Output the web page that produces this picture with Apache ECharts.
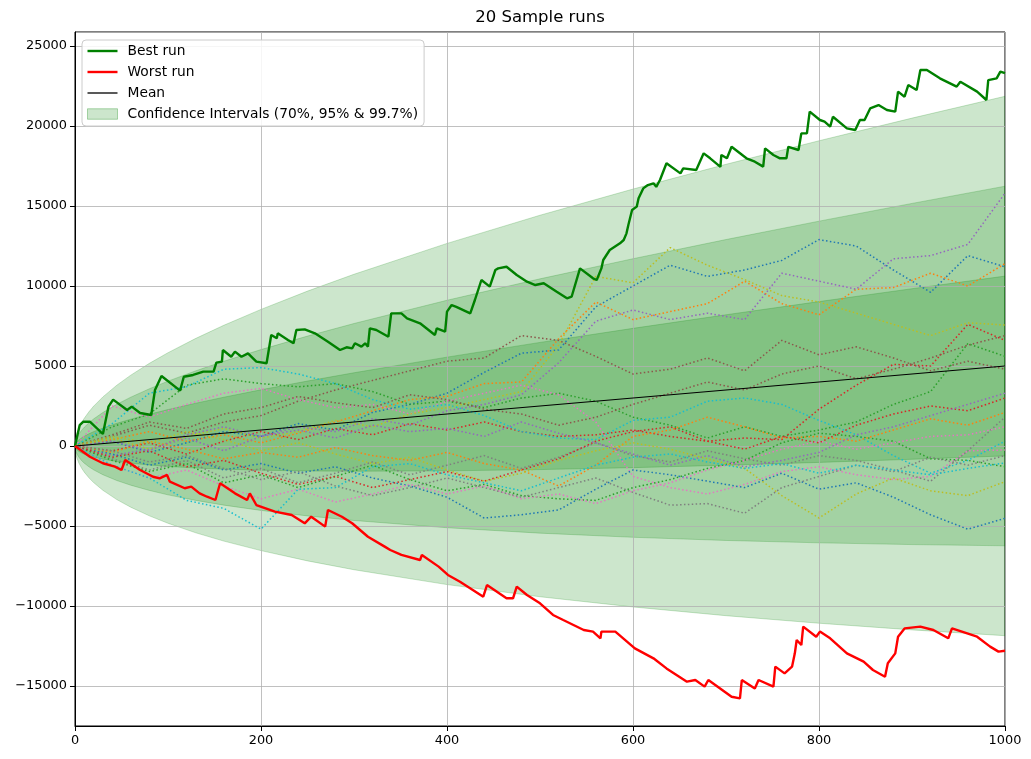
<!DOCTYPE html>
<html><head><meta charset="utf-8">
<script src="https://cdn.jsdelivr.net/npm/echarts@6/dist/echarts.min.js"></script>
<style>html,body{margin:0;padding:0;background:#fff}#chart{width:1031px;height:759px}</style>
</head><body><div id="chart"></div>
<script>
// ---------- data ----------
const xTicks = [0, 200, 400, 600, 800, 1000];

const bestX = [0,5,9,16,30,36,41,56,61,70,82,86,93,113,117,127,138,149,152,158,159,168,172,179,186,195,206,211,217,218,229,235,238,247,258,272,285,292,298,301,308,312,315,317,324,337,340,351,357,371,387,389,398,400,405,410,425,430,437,446,452,455,464,475,486,495,504,518,529,534,543,557,561,566,568,575,586,590,593,595,599,604,606,611,616,622,625,629,636,651,654,668,676,683,694,695,701,706,722,731,740,742,751,758,765,767,778,781,787,790,801,806,812,815,830,839,844,849,855,864,873,882,885,892,896,905,909,916,930,948,952,970,980,982,991,995,1000];
const bestY = [0,1300,1520,1520,750,2460,2900,2250,2460,2060,1940,3500,4375,3460,4330,4440,4650,4650,5210,5270,6000,5580,5900,5580,5790,5270,5170,6940,6730,7040,6625,6420,7250,7290,7040,6520,6000,6170,6100,6420,6210,6420,6210,7350,7250,6830,8290,8290,7980,7670,6940,7350,7150,8400,8810,8700,8290,9125,10375,9960,11000,11100,11200,10690,10270,10060,10170,9640,9230,9330,11100,10480,10375,11100,11625,12250,12670,12875,13290,13810,14750,14960,15480,16100,16310,16420,16200,16625,17670,17040,17350,17250,18290,17980,17450,18190,17980,18700,17980,17770,17460,18600,18190,17980,17980,18700,18500,19540,19540,20900,20375,20270,19960,20580,19850,19750,20375,20375,21100,21310,21000,20900,22150,21830,22560,22250,23500,23500,22980,22460,22770,22150,21625,22870,22980,23400,23300];

const worstX = [0,16,30,43,50,54,70,84,91,99,102,118,125,134,142,151,156,172,185,188,195,215,233,247,254,269,272,287,298,315,333,339,351,371,373,391,401,414,439,443,464,471,475,486,500,514,525,547,557,565,566,581,602,622,636,658,667,677,681,706,715,717,731,735,751,753,763,771,774,776,781,783,797,801,812,830,848,858,871,874,882,885,892,909,923,939,943,970,984,993,1000];
const worstY = [0,-670,-1080,-1290,-1500,-875,-1500,-1920,-2020,-1810,-2230,-2640,-2540,-2960,-3170,-3375,-2330,-2960,-3375,-2960,-3690,-4100,-4310,-4830,-4420,-5040,-4000,-4420,-4830,-5670,-6290,-6500,-6810,-7125,-6810,-7540,-8060,-8480,-9420,-8690,-9520,-9520,-8790,-9310,-9830,-10560,-10875,-11500,-11600,-12020,-11600,-11600,-12650,-13270,-13900,-14730,-14625,-15040,-14625,-15670,-15770,-14625,-15150,-14625,-15040,-13790,-14210,-13790,-12960,-12125,-12440,-11290,-11920,-11600,-12020,-12960,-13480,-14000,-14420,-13580,-12960,-11920,-11400,-11290,-11500,-12020,-11400,-11920,-12540,-12850,-12800];

const meanX = [0, 1000];
const meanY = [0, 5000];

const ciX = [0,1,2,4,7,10,15,20,30,45,60,80,100,130,160,200,250,300,400,500,600,700,800,900,1000];
const ci70Upper = [0,183,261,375,505,612,763,895,1123,1417,1676,1989,2277,2676,3048,3513,4060,4578,5554,6474,7353,8202,9026,9831,10619];
const ci70Lower = [0,-173,-241,-335,-435,-512,-613,-695,-823,-967,-1076,-1189,-1277,-1376,-1448,-1513,-1560,-1578,-1554,-1474,-1353,-1202,-1026,-831,-619];
const ci95Upper = [0,361,512,730,975,1174,1451,1690,2096,2609,3052,3578,4054,4702,5296,6026,6870,7656,9108,10448,11706,12904,14052,15162,16238];
const ci95Lower = [0,-351,-492,-690,-905,-1074,-1301,-1490,-1796,-2159,-2452,-2778,-3054,-3402,-3696,-4026,-4370,-4656,-5108,-5448,-5706,-5904,-6052,-6162,-6238];
const ci997Upper = [0,539,763,1085,1445,1736,2139,2485,3069,3801,4428,5167,5831,6728,7544,8539,9680,10734,12662,14422,16059,17606,19078,20493,21857];
const ci997Lower = [0,-529,-743,-1045,-1375,-1636,-1989,-2285,-2769,-3351,-3828,-4367,-4831,-5428,-5944,-6539,-7180,-7734,-8662,-9422,-10059,-10606,-11078,-11493,-11857];

const runX = [0,40,80,120,160,200,240,280,320,360,400,440,480,520,560,600,640,680,720,760,800,840,880,920,960,1000];
const run01 = [0,300,-400,200,900,600,1400,1000,2100,2600,3300,4600,5800,6000,8700,10000,11300,10600,11000,11600,12900,12500,11000,9600,11900,11200];
const run02 = [0,400,900,300,700,200,800,1500,2200,2900,3100,3900,4000,6700,9000,7900,8400,8900,10300,8900,8200,9800,9900,10800,10000,11400];
const run03 = [0,1200,2000,3800,4200,3900,3700,3900,3400,2600,2800,2400,3000,3300,2800,1800,1300,500,1200,600,1000,1500,2600,3400,6400,5600];
const run04 = [0,-300,200,-500,300,900,400,1100,700,1400,1000,1500,900,600,700,1000,600,300,500,400,2300,3800,5100,5000,7600,6600];
const run05 = [0,-600,-200,500,-300,600,1200,900,1700,1300,2200,2600,3200,5200,7800,8500,7900,8300,7900,10800,10300,9800,11700,11900,12600,15800];
const run06 = [0,600,1300,800,1500,1900,2800,3500,4100,4700,5300,5500,6900,6600,5600,4500,4800,5500,4700,6600,5700,6200,5500,4700,5300,4800];
const run07 = [0,2500,1800,2600,3300,3600,2900,2400,2600,2000,2800,3300,3800,3200,1500,-1900,-2600,-3000,-2400,-1600,-1300,-1800,-2100,-1900,-300,-250];
const run08 = [0,-800,-1500,-900,-2000,-1400,-2300,-1700,-1000,-1800,-1200,-600,-1400,-700,200,-600,-1000,-300,-800,-1200,-600,-900,-1500,-2200,-300,1800];
const run09 = [0,500,-200,600,1100,500,900,1600,1200,2000,2400,2900,3400,6300,10600,10200,12400,11300,10400,9400,9000,8300,7600,6900,7700,7560];
const run10 = [0,1400,3300,3700,4800,4900,4500,3900,2900,2300,2600,1900,900,500,400,1600,1800,2800,3000,2600,1600,700,-600,-1700,-900,300];
const run11 = [0,-500,-1200,-700,-1500,-1100,-1700,-1300,-2000,-2500,-3200,-4500,-4300,-4000,-2700,-1500,-1800,-2200,-2600,-1700,-2700,-2300,-3200,-4300,-5200,-4520];
const run12 = [0,-400,300,-200,-800,-400,-700,-100,-600,-900,-400,-1100,-1500,-2500,-1200,600,1000,1800,1200,500,600,300,1000,1700,1300,2100];
const run13 = [0,-900,-1600,-1100,-2300,-1800,-2600,-1900,-1200,-2100,-2800,-2400,-3100,-3300,-3400,-2600,-2100,-1400,-900,200,800,600,300,-800,-900,-1290];
const run14 = [0,-700,-300,-1300,-900,-1700,-2400,-1900,-2600,-2100,-1600,-2200,-1500,-800,300,900,1200,300,-200,600,200,1300,2000,2500,2200,3000];
const run15 = [0,300,-300,700,1200,600,1000,500,1300,900,1100,600,1500,800,200,-500,-1200,-600,-1300,-900,-400,700,1200,1900,2600,3300];
const run16 = [0,700,1500,1100,2000,2400,3100,2700,2400,3200,2900,2300,2000,1300,1800,2600,3300,4000,3500,4500,5000,4200,4800,5500,6300,6900];
const run17 = [0,-1200,-2000,-1500,-2500,-3300,-2700,-3500,-3000,-2400,-3000,-2500,-3300,-3000,-3600,-2800,-2300,-1500,-900,-200,300,-200,200,600,700,1200];
const run18 = [0,-300,-1000,-600,-1400,-2100,-1600,-2500,-3100,-2600,-2000,-2600,-3200,-2600,-2000,-2900,-3700,-3600,-4200,-2600,-1900,-1200,-1600,-700,-1200,-600];
const run19 = [0,600,200,900,400,-300,200,-500,-1100,-700,-1500,-2200,-1700,-900,-300,200,-200,-800,-1400,-3100,-4500,-3000,-2000,-2800,-3100,-2230];
const run20 = [0,-1200,-2000,-3400,-3900,-5200,-2700,-2600,-1300,-1100,-1800,-2300,-2800,-2000,-1200,-700,-500,-1000,-1400,-1100,-1700,-1200,-1500,-1800,-1400,-1060];
const sampleRuns = [run01,run02,run03,run04,run05,run06,run07,run08,run09,run10,run11,run12,run13,run14,run15,run16,run17,run18,run19,run20];
const runColors = ['#1f77b4','#ff7f0e','#2ca02c','#d62728','#9467bd','#8c564b','#e377c2','#7f7f7f','#bcbd22','#17becf'];

const CI_NAME = 'Confidence Intervals (70%, 95% & 99.7%)';
const FONT = 'DejaVu Sans';

// ---------- build ----------
const pairs = (xs, ys) => xs.map((x, i) => [x, ys[i]]);
const series = [];
const bands = [[ci997Lower, ci997Upper], [ci95Lower, ci95Upper], [ci70Lower, ci70Upper]];
const fill = 'rgba(0,128,0,0.2)';
const edge = 'rgba(0,128,0,0.2)';
bands.forEach(([lo, up], k) => {
  series.push({
    type: 'custom', name: k === 0 ? CI_NAME : '_band' + k, silent: true, z: 1,
    itemStyle: { color: fill },
    data: [[ciX[0], lo[0]]],
    encode: { x: 0, y: 1 },
    renderItem: (params, api) => {
      const pts = [];
      for (let i = 0; i < ciX.length; i++) pts.push(api.coord([ciX[i], up[i]]));
      for (let i = ciX.length - 1; i >= 0; i--) pts.push(api.coord([ciX[i], lo[i]]));
      return { type: 'polygon', shape: { points: pts },
        style: { fill: fill, stroke: edge, lineWidth: 1 } };
    }
  });
});
sampleRuns.forEach((r, i) => {
  series.push({
    type: 'line', name: '_run' + (i + 1), data: pairs(runX, r), symbol: 'none', silent: true, z: 2,
    lineStyle: { color: runColors[i % 10], width: 1.5, type: [1.5, 2.4] }
  });
});
series.push({ type: 'line', name: 'Mean', data: pairs(meanX, meanY), symbol: 'none', z: 3,
  lineStyle: { color: '#000', width: 1.2 }, itemStyle: { color: '#222' } });
series.push({ type: 'line', name: 'Best run', data: pairs(bestX, bestY), symbol: 'none', z: 4,
  lineStyle: { color: '#008000', width: 2.4 }, itemStyle: { color: '#008000' } });
series.push({ type: 'line', name: 'Worst run', data: pairs(worstX, worstY), symbol: 'none', z: 4,
  lineStyle: { color: '#ff0000', width: 2.4 }, itemStyle: { color: '#ff0000' } });

const fmtY = v => (v < 0 ? '\u2212' : '') + Math.abs(v);
const fmtX = v => String(v);

const chart = echarts.init(document.getElementById('chart'), null, { renderer: 'canvas' });
chart.setOption({
  animation: false,
  backgroundColor: '#fff',
  title: {
    text: '20 Sample runs', left: 535, top: 4, textAlign: 'center',
    textStyle: { fontFamily: FONT, fontSize: 16.5, fontWeight: 'normal', color: '#000' }
  },
  legend: {
    orient: 'vertical', left: 82, top: 40,
    padding: [4, 6, 5, 5], itemGap: 7, itemWidth: 30, itemHeight: 14,
    backgroundColor: 'rgba(255,255,255,0.85)', borderColor: '#cccccc', borderWidth: 1, borderRadius: 4,
    textStyle: { fontFamily: FONT, fontSize: 13.8, lineHeight: 14, color: '#000', padding: [0, 0, 0, 5] },
    itemStyle: { borderWidth: 0 },
    data: [
      { name: 'Best run', icon: 'path://M0 0H30V2.4H0Z' },
      { name: 'Worst run', icon: 'path://M0 0H30V2.4H0Z' },
      { name: 'Mean', icon: 'path://M0 0H30V1.5H0Z', itemStyle: { color: '#222' } },
      { name: CI_NAME, icon: 'path://M0 0H30V10.5H0Z',
        itemStyle: { color: fill, borderColor: 'rgba(0,128,0,0.3)', borderWidth: 1 } }
    ],
    selectedMode: false
  },
  grid: { left: 75, right: 26, top: 32, bottom: 33, show: true, borderColor: '#000', borderWidth: 1, backgroundColor: 'transparent' },
  xAxis: {
    type: 'value', min: 0, max: 1000, interval: 200, z: 1.5,
    axisLine: { show: true, onZero: false, lineStyle: { color: '#000', width: 1 } },
    axisTick: { show: true, inside: false, length: 5, lineStyle: { color: '#000' } },
    axisLabel: { fontFamily: FONT, fontSize: 12.9, color: '#000', margin: 8, formatter: fmtX },
    splitLine: { show: true, lineStyle: { color: '#b0b0b0', width: 0.8 } }
  },
  yAxis: {
    type: 'value', min: -17500, max: 25875, minInterval: 5000, maxInterval: 5000, z: 1.5,
    axisLine: { show: true, onZero: false, lineStyle: { color: '#000', width: 1 } },
    axisTick: { show: true, inside: false, length: 5, lineStyle: { color: '#000' } },
    axisLabel: { fontFamily: FONT, fontSize: 12.9, color: '#000', margin: 8, formatter: fmtY,
      showMinLabel: false, showMaxLabel: false },
    splitLine: { show: true, lineStyle: { color: '#b0b0b0', width: 0.8 } }
  },
  series: series
});
</script>
</body></html>
